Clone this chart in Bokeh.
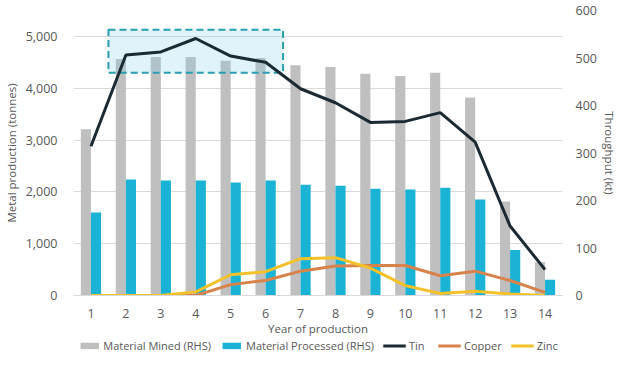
from bokeh.plotting import figure
from bokeh.layouts import column
from bokeh.models import (ColumnDataSource, Range1d, LinearAxis, Legend, LegendItem,
                          FixedTicker, NumeralTickFormatter)
from bokeh.transform import dodge
from bokeh.embed import file_html
from bokeh.resources import INLINE

years = list(range(1, 15))
year_labels = [str(y) for y in years]
mined_kt = [350, 498, 502, 502, 494, 500, 485, 481, 467, 462, 469, 417, 198, 70]
processed_kt = [175, 244, 242, 242, 238, 242, 233, 231, 225, 223, 227, 202, 96, 33]
tin_t = [2880, 4640, 4700, 4960, 4620, 4500, 3990, 3720, 3340, 3360, 3530, 2960, 1340, 500]
copper_t = [0, 0, 0, 0, 210, 290, 470, 570, 580, 580, 380, 470, 290, 60]
zinc_t = [0, 0, 0, 70, 400, 460, 710, 730, 530, 190, 40, 80, 30, 0]
highlight_years = [1.5, 6.5]
highlight_tonnes = [4300, 5130]
series_names = ["Material Mined (RHS)", "Material Processed (RHS)", "Tin", "Copper", "Zinc"]

FONT = "Open Sans"
TXT = "#595959"
C_MINED, C_PROC, C_TIN, C_CU, C_ZN = "#bfbfbf", "#1ab3d5", "#1b2a33", "#d9834c", "#f3c22b"

src = ColumnDataSource(dict(x=years, mined=mined_kt, processed=processed_kt,
                            tin=tin_t, copper=copper_t, zinc=zinc_t))

p = figure(width=619, height=338, output_backend="svg", toolbar_location=None,
           x_range=Range1d(0.5, 14.5), y_range=Range1d(0, 5500))
p.min_border_left = 70
p.min_border_right = 0
p.min_border_top = 10
p.min_border_bottom = 0
p.outline_line_color = None

p.extra_y_ranges = {"rhs": Range1d(0, 600)}

p.vbar(x=dodge("x", -0.145, range=p.x_range), top="mined", width=0.29,
       source=src, y_range_name="rhs", fill_color=C_MINED, line_color=None)
p.vbar(x=dodge("x", 0.145, range=p.x_range), top="processed", width=0.29,
       source=src, y_range_name="rhs", fill_color=C_PROC, line_color=None)

p.quad(left=[highlight_years[0]], right=[highlight_years[1]],
       bottom=[highlight_tonnes[0]], top=[highlight_tonnes[1]],
       fill_color="#83cfef", fill_alpha=0.25, line_color="#2a9fb2",
       line_width=2, line_dash="7 4")

p.line("x", "copper", source=src, line_color=C_CU, line_width=3)
p.line("x", "zinc", source=src, line_color=C_ZN, line_width=3)
p.line("x", "tin", source=src, line_color=C_TIN, line_width=3)

xa = p.xaxis[0]
xa.ticker = FixedTicker(ticks=years)
xa.major_label_overrides = {y: l for y, l in zip(years, year_labels)}
xa.axis_label = "Year of production"
xa.axis_line_color = "#d9d9d9"
xa.major_tick_line_color = None
xa.minor_tick_line_color = None
xa.major_label_standoff = 7
xa.axis_label_standoff = 0

ya = p.yaxis[0]
ya.ticker = FixedTicker(ticks=[0, 1000, 2000, 3000, 4000, 5000])
ya.formatter = NumeralTickFormatter(format="0,0")
ya.axis_label = "Metal production (tonnes)"
ya.axis_line_color = None
ya.major_tick_line_color = None
ya.minor_tick_line_color = None
ya.major_label_standoff = 10
ya.axis_label_standoff = 4

ra = LinearAxis(y_range_name="rhs", axis_label="Throughput (kt)")
ra.ticker = FixedTicker(ticks=[0, 100, 200, 300, 400, 500, 600])
ra.axis_line_color = None
ra.major_tick_line_color = None
ra.minor_tick_line_color = None
ra.major_label_standoff = 7
ra.axis_label_standoff = 2
p.add_layout(ra, "right")

for ax in [xa, ya, ra]:
    ax.major_label_text_font = FONT
    ax.major_label_text_font_size = "12.5px"
    ax.major_label_text_color = TXT
    ax.axis_label_text_font = FONT
    ax.axis_label_text_font_size = "11.5px"
    ax.axis_label_text_font_style = "normal"
    ax.axis_label_text_color = TXT

p.xgrid.grid_line_color = None
p.ygrid.grid_line_color = "#d9d9d9"
p.ygrid.grid_line_width = 1

# legend strip (dummy renderers placed outside the visible range)
lg = figure(width=619, height=14, output_backend="svg", toolbar_location=None,
            x_range=Range1d(0, 1), y_range=Range1d(0, 1),
            x_axis_location=None, y_axis_location=None)
lg.min_border = 0
lg.outline_line_color = None
lg.xgrid.grid_line_color = None
lg.ygrid.grid_line_color = None
hidden = ColumnDataSource(dict(x=[-10, -11], y=[-10, -11]))
l_mined = lg.vbar(x="x", top="y", width=0.1, source=hidden, fill_color=C_MINED, line_color=None)
l_proc = lg.vbar(x="x", top="y", width=0.1, source=hidden, fill_color=C_PROC, line_color=None)
l_tin = lg.line("x", "y", source=hidden, line_color=C_TIN, line_width=3)
l_cu = lg.line("x", "y", source=hidden, line_color=C_CU, line_width=3)
l_zn = lg.line("x", "y", source=hidden, line_color=C_ZN, line_width=3)

legend = Legend(items=[LegendItem(label=n, renderers=[r]) for n, r in
                       zip(series_names, [l_mined, l_proc, l_tin, l_cu, l_zn])],
                orientation="horizontal", location="center")
legend.label_text_font = FONT
legend.label_text_font_size = "11px"
legend.label_text_color = TXT
legend.glyph_width = 23
legend.glyph_height = 8
legend.label_standoff = 3
legend.spacing = 9
legend.padding = 0
legend.margin = 0
legend.border_line_color = None
legend.background_fill_alpha = 0
legend.label_height = 13
lg.add_layout(legend, "center")

layout = column(p, lg, spacing=0)
open("out.html", "w").write(file_html(layout, INLINE))
